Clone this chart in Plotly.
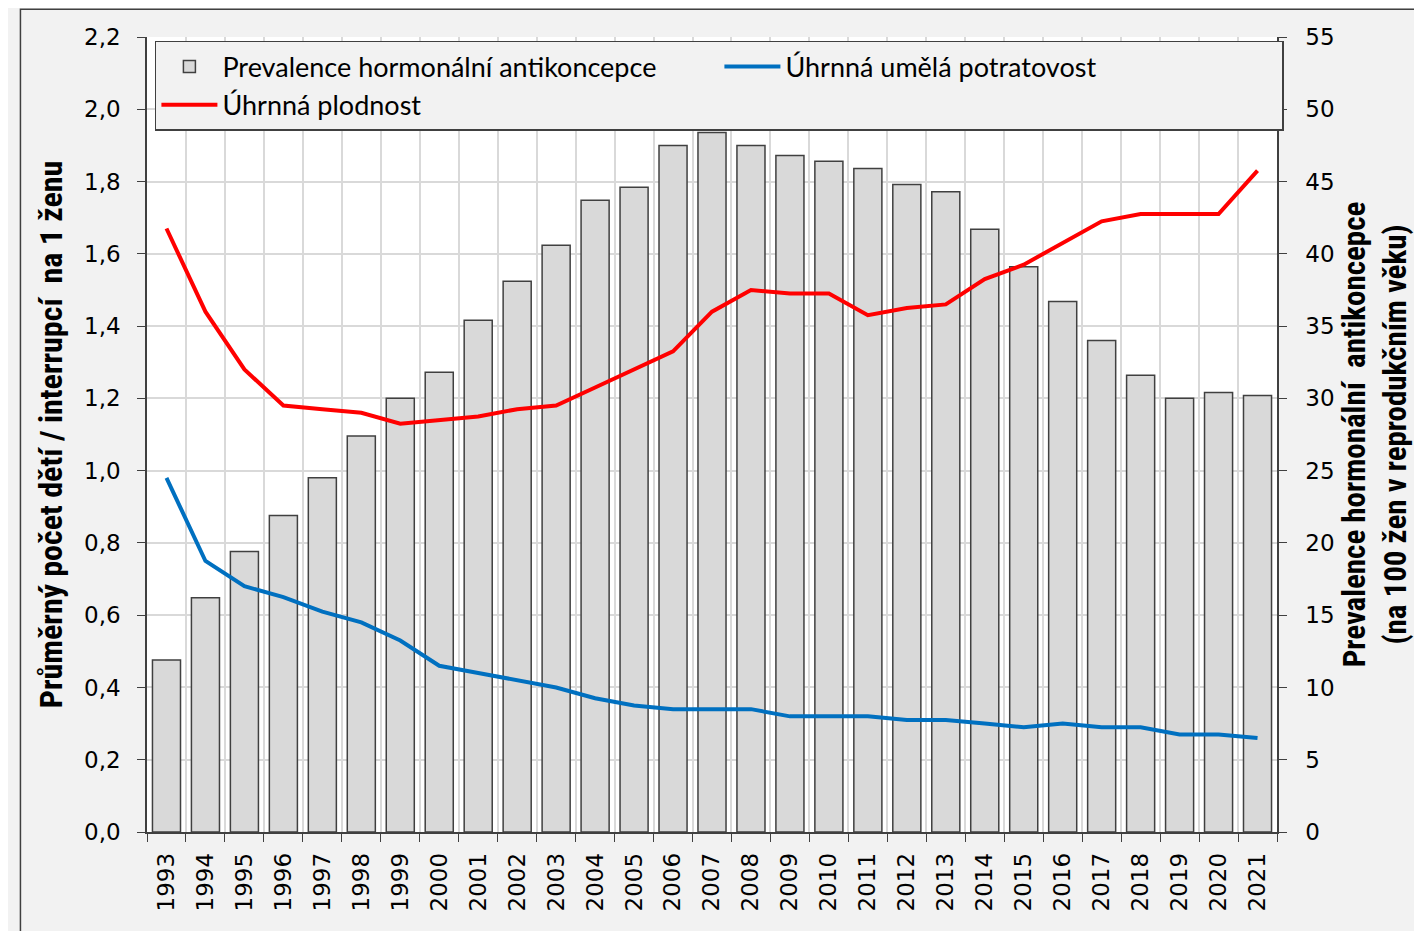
import plotly.graph_objects as go

# data
years = [str(y) for y in range(1993, 2022)]
prevalence = [11.9, 16.2, 19.4, 21.9, 24.5, 27.4, 30.0, 31.8, 35.4, 38.1,
              40.6, 43.7, 44.6, 47.5, 48.4, 47.5, 46.8, 46.4, 45.9, 44.8,
              44.3, 41.7, 39.1, 36.7, 34.0, 31.6, 30.0, 30.4, 30.2]
potratovost = [0.98, 0.75, 0.68, 0.65, 0.61, 0.58, 0.53, 0.46, 0.44, 0.42,
               0.40, 0.37, 0.35, 0.34, 0.34, 0.34, 0.32, 0.32, 0.32, 0.31,
               0.31, 0.30, 0.29, 0.30, 0.29, 0.29, 0.27, 0.27, 0.26]
plodnost = [1.67, 1.44, 1.28, 1.18, 1.17, 1.16, 1.13, 1.14, 1.15, 1.17,
            1.18, 1.23, 1.28, 1.33, 1.44, 1.50, 1.49, 1.49, 1.43, 1.45,
            1.46, 1.53, 1.57, 1.63, 1.69, 1.71, 1.71, 1.71, 1.83]
left_ticks = [i / 10 for i in range(0, 23, 2)]
left_labels = [f"{v:.1f}".replace(".", ",") for v in left_ticks]

tick_font = dict(family="DejaVu Sans", size=23, color="black")
title_font = dict(family="Liberation Sans Narrow, Roboto Condensed, Arial Narrow, sans-serif",
                  size=31, color="black")

fig = go.Figure()

fig.add_trace(go.Bar(
    x=years, y=prevalence, yaxis="y",
    name="Prevalence hormonální antikoncepce",
    marker=dict(color="#d9d9d9", line=dict(color="#404040", width=1.5)),
))
fig.add_trace(go.Scatter(
    x=years, y=potratovost, yaxis="y2", mode="lines",
    name="Úhrnná umělá potratovost",
    line=dict(color="#0070c0", width=4),
))
fig.add_trace(go.Scatter(
    x=years, y=plodnost, yaxis="y2", mode="lines",
    name="Úhrnná plodnost",
    line=dict(color="#ff0000", width=4),
))

# the page body has an 8px margin, so the figure is 8px smaller and shifted
fig.update_layout(
    width=1414, height=923,
    margin=dict(l=139, r=145, t=29, b=99),
    paper_bgcolor="#f2f2f2",
    plot_bgcolor="white",
    bargap=0.28,
    showlegend=True,
    xaxis=dict(
        type="category", tickson="boundaries",
        tickangle=-90, tickfont=tick_font, ticklabelstandoff=10,
        showgrid=True, gridcolor="#d9d9d9", gridwidth=1.5,
        ticks="outside", ticklen=8, tickcolor="#404040",
        showline=True, linecolor="#404040", linewidth=1.5,
    ),
    yaxis=dict(
        side="right", range=[0, 55], tickvals=list(range(0, 56, 5)),
        tickfont=tick_font, ticklabelstandoff=14,
        showgrid=True, gridcolor="#d9d9d9", gridwidth=1.5,
        ticks="outside", ticklen=8, tickcolor="#404040",
        showline=True, linecolor="#404040", linewidth=1.5,
        zeroline=False,
        title=dict(text="<b>Prevalence hormonální  antikoncepce<br>(na 100 žen v reprodukčním věku)</b>",
                   font=title_font, standoff=10),
    ),
    yaxis2=dict(
        side="left", overlaying="y", range=[0, 2.2],
        tickvals=left_ticks, ticktext=left_labels,
        tickfont=tick_font, ticklabelstandoff=12,
        showgrid=False, zeroline=False,
        ticks="outside", ticklen=8, tickcolor="#404040",
        showline=True, linecolor="#404040", linewidth=1.5,
        title=dict(text="<b>Průměrný počet dětí / interrupcí  na 1 ženu</b>",
                   font=dict(title_font, size=32), standoff=12),
    ),
    legend=dict(
        orientation="h", x=0.007, y=0.995, xanchor="left", yanchor="top",
        bgcolor="#f2f2f2", bordercolor="#404040", borderwidth=1.5,
        font=dict(family="Lato", size=27, color="black"),
        entrywidth=492, entrywidthmode="pixels", itemwidth=56,
        tracegroupgap=0,
    ),
    shapes=[dict(type="rect", xref="paper", yref="paper",
                 x0=-0.112, x1=1.2, y0=-0.2, y1=1.035,
                 line=dict(color="#404040", width=1.5), fillcolor="rgba(0,0,0,0)",
                 layer="above")],
)

fig.write_html("out.html")
